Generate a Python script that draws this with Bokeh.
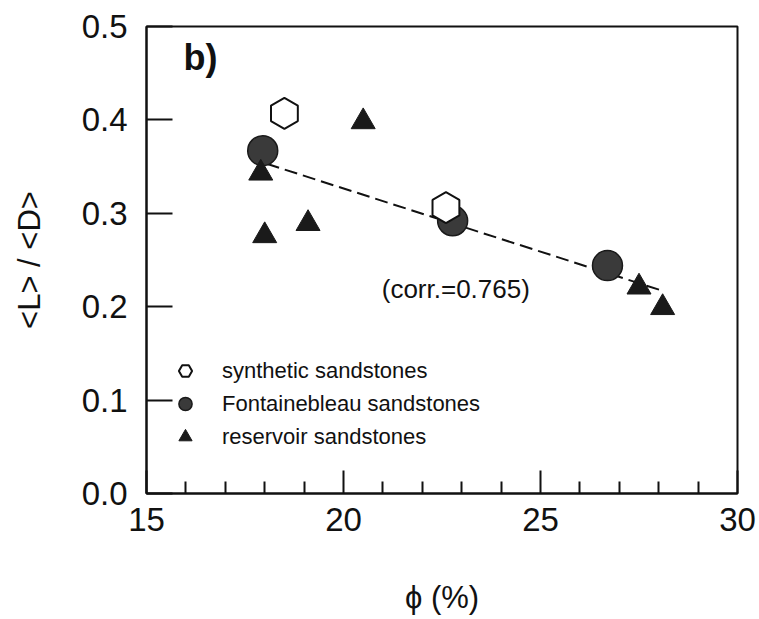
import math
from bokeh.plotting import figure
from bokeh.models import FixedTicker, Label, Legend, LegendItem, Range1d, CustomJSTickFormatter
from bokeh.embed import file_html
from bokeh.resources import INLINE

# ---- data ----
syn_x = [18.5, 22.6]
syn_y = [0.407, 0.306]
font_x = [17.95, 22.77, 26.7]
font_y = [0.367, 0.292, 0.244]
res_x = [17.9, 18.0, 19.1, 20.5, 27.5, 28.1]
res_y = [0.343, 0.276, 0.289, 0.398, 0.221, 0.199]
fit_x = [18.05, 28.1]
fit_y = [0.353, 0.217]
x_ticks = [15, 20, 25, 30]
x_minor = [16, 17, 18, 19, 21, 22, 23, 24, 26, 27, 28, 29]
y_ticks = [0.0, 0.1, 0.2, 0.3, 0.4, 0.5]
corr_text = "(corr.=0.765)"
panel_text = "b)"
legend_labels = ["synthetic sandstones", "Fontainebleau sandstones", "reservoir sandstones"]

FONT = "Liberation Sans"
INK = "#111111"

p = figure(width=759, height=619, output_backend="svg", toolbar_location=None,
           x_range=Range1d(15, 30), y_range=Range1d(0, 0.5),
           min_border_left=146, min_border_right=22, min_border_top=26, min_border_bottom=126)
p.background_fill_color = "white"
p.border_fill_color = "white"
p.grid.visible = False
p.outline_line_color = INK
p.outline_line_width = 2

# axes
p.xaxis.ticker = FixedTicker(ticks=x_ticks, minor_ticks=x_minor)
p.yaxis.ticker = FixedTicker(ticks=y_ticks, minor_ticks=[])
p.yaxis.formatter = CustomJSTickFormatter(code="return tick.toFixed(1);")
for ax in (p.xaxis[0], p.yaxis[0]):
    ax.axis_line_color = INK
    ax.axis_line_width = 2
    ax.major_tick_line_color = INK
    ax.major_tick_line_width = 2
    ax.minor_tick_line_color = INK
    ax.minor_tick_line_width = 2
    ax.major_tick_out = 0
    ax.minor_tick_out = 0
    ax.major_label_text_font = FONT
    ax.major_label_text_font_size = "33px"
    ax.major_label_text_color = INK
    ax.axis_label_text_font = FONT
    ax.axis_label_text_font_style = "normal"
    ax.axis_label_text_font_size = "31px"
    ax.axis_label_text_color = INK
p.xaxis.major_tick_in = 23
p.xaxis.minor_tick_in = 12
p.yaxis.major_tick_in = 26
p.yaxis.minor_tick_in = 0
p.xaxis.major_label_standoff = 14
p.yaxis.major_label_standoff = 19
p.xaxis.axis_label = "\u03d5 (%)"
p.yaxis.axis_label = "<L> / <D>"
p.xaxis.axis_label_standoff = 46
p.yaxis.axis_label_standoff = 32

# fit line
p.line(fit_x, fit_y, line_color=INK, line_width=2, line_dash="13 6")

# markers
r_font = p.scatter(font_x, font_y, marker="circle", size=30, fill_color="#3a3a3a",
                   line_color="#1a1a1a", line_width=1.5)
r_syn = p.scatter(syn_x, syn_y, marker="hex", size=31, angle=math.pi / 6,
                  fill_color="white", line_color=INK, line_width=2)
r_res = p.scatter(res_x, res_y, marker="triangle", size=24, fill_color="#1a1a1a",
                  line_color="#1a1a1a", line_width=1)

# texts
p.add_layout(Label(x=15.94, y=0.445, text=panel_text, text_font=FONT,
                   text_font_style="bold", text_font_size="36px", text_color=INK))
p.add_layout(Label(x=20.97, y=0.203, text=corr_text, text_font=FONT,
                   text_font_size="26px", text_color=INK))

legend = Legend(items=[LegendItem(label=legend_labels[0], renderers=[r_syn]),
                       LegendItem(label=legend_labels[1], renderers=[r_font]),
                       LegendItem(label=legend_labels[2], renderers=[r_res])],
                location=(20, 40), orientation="vertical",
                border_line_alpha=0, background_fill_alpha=0,
                padding=0, margin=0, spacing=0,
                glyph_width=38, glyph_height=33, label_standoff=18,
                label_text_font=FONT, label_text_font_size="22px",
                label_text_color=INK)
p.add_layout(legend)

open("out.html", "w").write(file_html(p, INLINE))
